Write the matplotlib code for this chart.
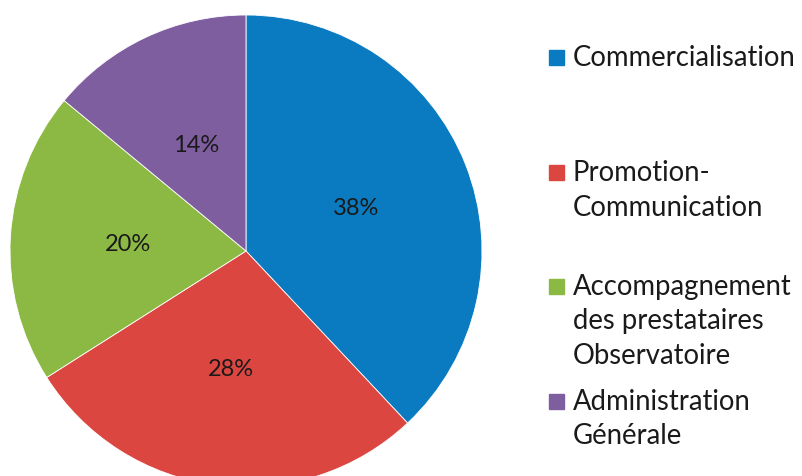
import numpy as np
import matplotlib.pyplot as plt
from matplotlib.patches import Rectangle

# data
categories = ["Commercialisation", "Promotion-\nCommunication",
              "Accompagnement\ndes prestataires\nObservatoire",
              "Administration\nGénérale"]
shares = [38, 28, 20, 14]
colors = ["#0A7BC0", "#DC4641", "#8CB944", "#7F5EA0"]

W, H = 803, 477
CX, CY, R = 246, 252, 236
plt.rcParams["font.family"] = ["Lato", "DejaVu Sans"]

fig = plt.figure(figsize=(W / 100, H / 100), dpi=100)
ax = fig.add_axes([0, 0, 1, 1])

# pie in pixel units, y axis going up
wedges, _ = ax.pie(shares, colors=colors, startangle=90, counterclock=False,
                   center=(CX, H - CY), radius=R,
                   wedgeprops=dict(edgecolor="white", linewidth=0.6))
ax.set_xlim(0, W)
ax.set_ylim(0, H)
ax.set_aspect("equal")
ax.axis("off")

# percentage labels at half the radius
for w, v in zip(wedges, shares):
    mid = np.deg2rad((w.theta1 + w.theta2) / 2)
    x = CX + 0.5 * R * np.cos(mid)
    y = H - CY + 0.5 * R * np.sin(mid)
    ax.text(x, y, f"{v}%", ha="center", va="center", fontsize=17,
            color="#1a1a1a")

# legend drawn by hand: one coloured square and a block of text per entry
first_line_y = [58, 173, 287, 402]
line_gap = 34.5
for label, c, y0 in zip(categories, colors, first_line_y):
    ax.add_patch(Rectangle((549, H - y0 - 7.5), 15, 15, color=c))
    for i, line in enumerate(label.split("\n")):
        ax.text(573, H - y0 - i * line_gap, line, ha="left", va="center",
                fontsize=19.8, color="#1a1a1a")

fig.savefig("out.png", dpi=100)
